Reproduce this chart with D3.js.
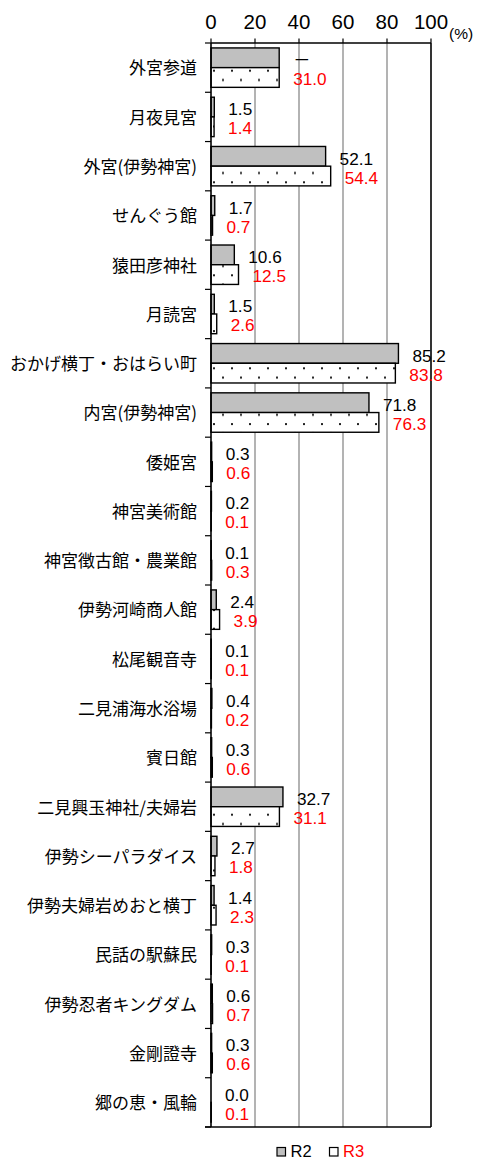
<!DOCTYPE html>
<html><head><meta charset="utf-8">
<script src="https://cdn.jsdelivr.net/npm/d3@7"></script>
<style>
html,body{margin:0;padding:0;background:#fff;}
svg{display:block;font-family:"Liberation Sans","Noto Sans CJK JP",Arial,sans-serif;}
</style></head>
<body><svg id="c" width="487" height="1160"></svg>
<script>
const categories = ["外宮参道","月夜見宮","外宮(伊勢神宮)","せんぐう館","猿田彦神社","月読宮","おかげ横丁・おはらい町","内宮(伊勢神宮)","倭姫宮","神宮美術館","神宮徴古館・農業館","伊勢河崎商人館","松尾観音寺","二見浦海水浴場","賓日館","二見興玉神社/夫婦岩","伊勢シーパラダイス","伊勢夫婦岩めおと横丁","民話の駅蘇民","伊勢忍者キングダム","金剛證寺","郷の恵・風輪"];
const r2 = [31.0,1.5,52.1,1.7,10.6,1.5,85.2,71.8,0.3,0.2,0.1,2.4,0.1,0.4,0.3,32.7,2.7,1.4,0.3,0.6,0.3,0.0];
const r3 = [31.0,1.4,54.4,0.7,12.5,2.6,83.8,76.3,0.6,0.1,0.3,3.9,0.1,0.2,0.6,31.1,1.8,2.3,0.1,0.7,0.6,0.1];
const r2Text = ["－",null,null,null,null,null,null,null,null,null,null,null,null,null,null,null,null,null,null,null,null,null];
const xTicks = [0,20,40,60,80,100];
const seriesNames = ["R2","R3"];

const svg = d3.select("#c");
const x = d3.scaleLinear().domain([0,100]).range([211,431]);
const y = d3.scaleBand().domain(categories).range([43,1127]).paddingInner(0.2).paddingOuter(0.1);
const sub = d3.scaleBand().domain(seriesNames).range([0,y.bandwidth()]);
const step = y.step();

const defs = svg.append("defs");
const pat = defs.append("pattern").attr("id","dots").attr("patternUnits","userSpaceOnUse")
  .attr("width",18).attr("height",18.6).attr("x",213).attr("y",69.7);
pat.append("rect").attr("width",18).attr("height",18.6).attr("fill","#fff");
pat.append("rect").attr("x",0).attr("y",0).attr("width",2).attr("height",2).attr("fill","#222");
pat.append("rect").attr("x",9).attr("y",9.3).attr("width",2).attr("height",2).attr("fill","#222");

// gridlines
svg.append("g").selectAll("line").data(xTicks.filter(d=>d>0&&d<100)).join("line")
  .attr("x1",d=>x(d)).attr("x2",d=>x(d)).attr("y1",43).attr("y2",1127)
  .attr("stroke","#808080").attr("stroke-width",1.2);
// right border (100)
svg.append("line").attr("x1",x(100)).attr("x2",x(100)).attr("y1",43).attr("y2",1127)
  .attr("stroke","#000").attr("stroke-width",1.6);

// bars
const rows = svg.append("g");
categories.forEach((c,i)=>{
  rows.append("rect").attr("x",x(0)).attr("y",y(c)+sub("R2"))
    .attr("width",x(r2[i])-x(0)).attr("height",sub.bandwidth())
    .attr("fill","#c0c0c0").attr("stroke","#000").attr("stroke-width",1.4);
  rows.append("rect").attr("x",x(0)).attr("y",y(c)+sub("R3"))
    .attr("width",x(r3[i])-x(0)).attr("height",sub.bandwidth())
    .attr("fill","url(#dots)").attr("stroke","#000").attr("stroke-width",1.4);
});

// top axis line and ticks
svg.append("line").attr("x1",x(0)).attr("x2",x(100)).attr("y1",43).attr("y2",43).attr("stroke","#000").attr("stroke-width",1.6);
svg.append("g").selectAll("line").data(xTicks).join("line")
  .attr("x1",d=>x(d)).attr("x2",d=>x(d)).attr("y1",38.5).attr("y2",43)
  .attr("stroke","#000").attr("stroke-width",1.2);
svg.append("g").selectAll("text").data(xTicks).join("text")
  .attr("x",d=>x(d)).attr("y",28.5).attr("text-anchor","middle")
  .attr("font-size",20.5).attr("fill","#000").text(d=>d);
svg.append("text").attr("x",449).attr("y",38.8).attr("font-size",15.5).attr("fill","#000").text("(%)");

// left axis + bottom line
svg.append("line").attr("x1",x(0)).attr("x2",x(0)).attr("y1",43).attr("y2",1127).attr("stroke","#000").attr("stroke-width",1.6);
svg.append("line").attr("x1",205).attr("x2",x(100)).attr("y1",1127).attr("y2",1127).attr("stroke","#000").attr("stroke-width",1.6);
svg.append("g").selectAll("line").data(d3.range(categories.length+1)).join("line")
  .attr("x1",205).attr("x2",x(0)).attr("y1",i=>43+i*step).attr("y2",i=>43+i*step)
  .attr("stroke","#000").attr("stroke-width",1.2);

// category labels
svg.append("g").selectAll("text").data(categories).join("text")
  .attr("x",197).attr("y",c=>y(c)+y.bandwidth()/2+6.8).attr("text-anchor","end")
  .attr("font-size",17).attr("font-family","'Noto Sans CJK JP','Liberation Sans',sans-serif")
  .attr("fill","#000").text(c=>c);

// value labels
const lab = svg.append("g").attr("font-size",17.2);
categories.forEach((c,i)=>{
  lab.append("text").attr("x",x(r2[i])+14).attr("y",y(c)+sub("R2")+sub.bandwidth()/2+8.2)
    .attr("fill","#000").text(r2Text[i]!==null ? r2Text[i] : d3.format(".1f")(r2[i]));
  lab.append("text").attr("x",x(r3[i])+14).attr("y",y(c)+sub("R3")+sub.bandwidth()/2+7.5)
    .attr("fill","#ff0000").text(d3.format(".1f")(r3[i]));
});

// legend
const lg = svg.append("g");
lg.append("rect").attr("x",277).attr("y",1147.5).attr("width",8.5).attr("height",8.5).attr("fill","#c0c0c0").attr("stroke","#000").attr("stroke-width",1.2);
lg.append("text").attr("x",290.5).attr("y",1157).attr("font-size",16.5).attr("fill","#000").text(seriesNames[0]);
lg.append("rect").attr("x",329.5).attr("y",1147.5).attr("width",8.5).attr("height",8.5).attr("fill","#fff").attr("stroke","#000").attr("stroke-width",1.2);
lg.append("text").attr("x",343).attr("y",1157).attr("font-size",16.5).attr("fill","#ff0000").text(seriesNames[1]);
</script></body></html>
